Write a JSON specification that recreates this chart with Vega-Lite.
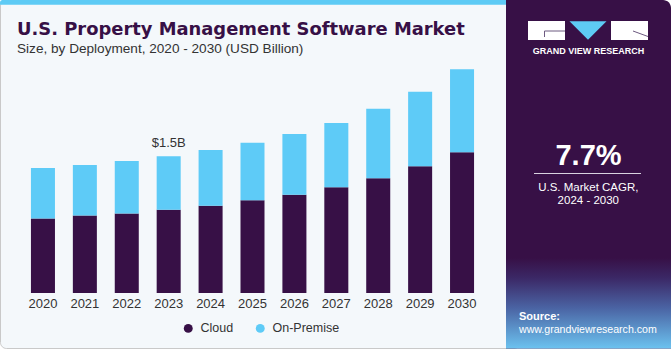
{
  "$schema": "https://vega.github.io/schema/vega-lite/v6.json",
  "autosize": {"type": "none"},
  "padding": {"left": 22, "top": 56, "right": 188, "bottom": 57},
  "width": 461,
  "height": 237,
  "background": "#ffffff",
  "config": {"view": {"stroke": null}, "font": "Liberation Sans"},
  "layer": [
    {
      "data": {"values": [{}]},
      "layer": [
        {"mark": {"type": "rect", "fill": "#f4f8fb", "stroke": "#c9c9c9", "strokeWidth": 1, "cornerRadius": 6},
         "encoding": {
           "x": {"datum": 0.5, "type": "quantitative", "scale": {"domain": [0, 671], "range": [-22, 649], "nice": false, "zero": false}, "axis": null},
           "x2": {"datum": 520},
           "y": {"datum": 0, "type": "quantitative", "scale": {"domain": [0, 350], "range": [-56, 294], "nice": false, "zero": false}, "axis": null},
           "y2": {"datum": 348.5}}},
        {"mark": {"type": "rect", "fill": "#5ecbf5", "cornerRadiusTopLeft": 4},
         "encoding": {"x": {"datum": 0, "type": "quantitative", "axis": null}, "x2": {"datum": 510},
                      "y": {"datum": 0, "type": "quantitative", "axis": null}, "y2": {"datum": 4.7}}},
        {"mark": {"type": "rect", "fill": "#371046", "cornerRadiusTopRight": 8},
         "encoding": {"x": {"datum": 506, "type": "quantitative", "axis": null}, "x2": {"datum": 671},
                      "y": {"datum": 0, "type": "quantitative", "axis": null}, "y2": {"datum": 348.5}}},
        {"mark": {"type": "rect", "fill": {"gradient": "linear", "x1": 0, "y1": 0, "x2": 0, "y2": 1,
                   "stops": [{"offset": 0, "color": "#371046"}, {"offset": 0.22, "color": "#3b2866"}, {"offset": 0.55, "color": "#4a63a3"}, {"offset": 1, "color": "#6cc2ef"}]}},
         "encoding": {"x": {"datum": 506, "type": "quantitative", "axis": null}, "x2": {"datum": 671},
                      "y": {"datum": 258, "type": "quantitative", "axis": null}, "y2": {"datum": 348.5}}},
        {"mark": {"type": "rect", "fill": "#ffffff"},
         "encoding": {"x": {"datum": 528, "type": "quantitative", "axis": null}, "x2": {"datum": 565},
                      "y": {"datum": 21, "type": "quantitative", "axis": null}, "y2": {"datum": 40}}},
        {"mark": {"type": "rect", "fill": "#ffffff"},
         "encoding": {"x": {"datum": 611, "type": "quantitative", "axis": null}, "x2": {"datum": 648},
                      "y": {"datum": 21, "type": "quantitative", "axis": null}, "y2": {"datum": 40}}},
        {"mark": {"type": "rule", "stroke": "#6d5a80", "strokeWidth": 1},
         "encoding": {"x": {"datum": 544.5, "type": "quantitative", "axis": null}, "x2": {"datum": 565},
                      "y": {"datum": 31, "type": "quantitative", "axis": null}, "y2": {"datum": 31}}},
        {"mark": {"type": "rule", "stroke": "#6d5a80", "strokeWidth": 1},
         "encoding": {"x": {"datum": 544.5, "type": "quantitative", "axis": null}, "x2": {"datum": 544.5},
                      "y": {"datum": 31, "type": "quantitative", "axis": null}, "y2": {"datum": 37}}},
        {"mark": {"type": "rule", "stroke": "#6d5a80", "strokeWidth": 1},
         "encoding": {"x": {"datum": 633, "type": "quantitative", "axis": null}, "x2": {"datum": 648},
                      "y": {"datum": 31, "type": "quantitative", "axis": null}, "y2": {"datum": 36.5}}},
        {"mark": {"type": "point", "shape": "M-1,-0.5L1,-0.5L0,0.5Z", "filled": true, "fill": "#5ecbf5", "stroke": null, "opacity": 1, "size": 1369},
         "encoding": {"x": {"datum": 588, "type": "quantitative", "axis": null},
                      "y": {"datum": 30.5, "type": "quantitative", "axis": null}}},
        {"mark": {"type": "text", "fill": "#ffffff", "font": "Liberation Sans", "fontWeight": "bold", "fontSize": 9, "letterSpacing": 1.5, "align": "center", "baseline": "alphabetic"},
         "encoding": {"x": {"datum": 588.5, "type": "quantitative", "axis": null},
                      "y": {"datum": 54.3, "type": "quantitative", "axis": null},
                      "text": {"value": "GRAND VIEW RESEARCH"}}},
        {"mark": {"type": "text", "fill": "#ffffff", "font": "Liberation Sans", "fontWeight": "bold", "fontSize": 29, "letterSpacing": 1, "align": "center", "baseline": "alphabetic"},
         "encoding": {"x": {"datum": 588.5, "type": "quantitative", "axis": null},
                      "y": {"datum": 165, "type": "quantitative", "axis": null},
                      "text": {"value": "7.7%"}}},
        {"mark": {"type": "rule", "stroke": "#d9d2e0", "strokeWidth": 1},
         "encoding": {"x": {"datum": 534, "type": "quantitative", "axis": null}, "x2": {"datum": 641},
                      "y": {"datum": 173.5, "type": "quantitative", "axis": null}, "y2": {"datum": 173.5}}},
        {"mark": {"type": "text", "fill": "#ffffff", "font": "Liberation Sans", "fontSize": 11.5, "align": "center", "baseline": "alphabetic"},
         "encoding": {"x": {"datum": 588.3, "type": "quantitative", "axis": null},
                      "y": {"datum": 190.5, "type": "quantitative", "axis": null},
                      "text": {"value": "U.S. Market CAGR,"}}},
        {"mark": {"type": "text", "fill": "#ffffff", "font": "Liberation Sans", "fontSize": 11.5, "align": "center", "baseline": "alphabetic"},
         "encoding": {"x": {"datum": 588.3, "type": "quantitative", "axis": null},
                      "y": {"datum": 203.5, "type": "quantitative", "axis": null},
                      "text": {"value": "2024 - 2030"}}},
        {"mark": {"type": "text", "fill": "#ffffff", "font": "Liberation Sans", "fontWeight": "bold", "fontSize": 11, "align": "left", "baseline": "alphabetic"},
         "encoding": {"x": {"datum": 519, "type": "quantitative", "axis": null},
                      "y": {"datum": 320, "type": "quantitative", "axis": null},
                      "text": {"value": "Source:"}}},
        {"mark": {"type": "text", "fill": "#ffffff", "font": "Liberation Sans", "fontSize": 10.6, "align": "left", "baseline": "alphabetic"},
         "encoding": {"x": {"datum": 519, "type": "quantitative", "axis": null},
                      "y": {"datum": 333, "type": "quantitative", "axis": null},
                      "text": {"value": "www.grandviewresearch.com"}}},
        {"mark": {"type": "text", "fill": "#371046", "font": "DejaVu Sans", "fontWeight": "bold", "fontSize": 17.9, "align": "left", "baseline": "alphabetic"},
         "encoding": {"x": {"datum": 17, "type": "quantitative", "axis": null},
                      "y": {"datum": 35, "type": "quantitative", "axis": null},
                      "text": {"value": "U.S. Property Management Software Market"}}},
        {"mark": {"type": "text", "fill": "#333333", "font": "Liberation Sans", "fontSize": 13.6, "align": "left", "baseline": "alphabetic"},
         "encoding": {"x": {"datum": 17, "type": "quantitative", "axis": null},
                      "y": {"datum": 53.3, "type": "quantitative", "axis": null},
                      "text": {"value": "Size, by Deployment, 2020 - 2030 (USD Billion)"}}}
      ]
    },
    {
      "data": {"values": [
        {"year": "2020", "deployment": "Cloud", "value": 0.816},
        {"year": "2020", "deployment": "On-Premise", "value": 0.556},
        {"year": "2021", "deployment": "Cloud", "value": 0.849},
        {"year": "2021", "deployment": "On-Premise", "value": 0.556},
        {"year": "2022", "deployment": "Cloud", "value": 0.871},
        {"year": "2022", "deployment": "On-Premise", "value": 0.578},
        {"year": "2023", "deployment": "Cloud", "value": 0.914},
        {"year": "2023", "deployment": "On-Premise", "value": 0.586},
        {"year": "2024", "deployment": "Cloud", "value": 0.958},
        {"year": "2024", "deployment": "On-Premise", "value": 0.612},
        {"year": "2025", "deployment": "Cloud", "value": 1.017},
        {"year": "2025", "deployment": "On-Premise", "value": 0.630},
        {"year": "2026", "deployment": "Cloud", "value": 1.079},
        {"year": "2026", "deployment": "On-Premise", "value": 0.666},
        {"year": "2027", "deployment": "Cloud", "value": 1.159},
        {"year": "2027", "deployment": "On-Premise", "value": 0.707},
        {"year": "2028", "deployment": "Cloud", "value": 1.258},
        {"year": "2028", "deployment": "On-Premise", "value": 0.762},
        {"year": "2029", "deployment": "Cloud", "value": 1.390},
        {"year": "2029", "deployment": "On-Premise", "value": 0.817},
        {"year": "2030", "deployment": "Cloud", "value": 1.543},
        {"year": "2030", "deployment": "On-Premise", "value": 0.912}
      ]},
      "layer": [
        {"mark": {"type": "bar"},
         "encoding": {
           "x": {"field": "year", "type": "ordinal", "scale": {"paddingInner": 0.427, "paddingOuter": 0.2135},
                 "axis": {"title": null, "ticks": false, "domain": false, "labelPadding": 4, "labelFontSize": 13, "labelColor": "#333333", "labelFont": "Liberation Sans", "labelAngle": 0, "zindex": 2}},
           "y": {"field": "value", "type": "quantitative", "stack": "zero", "scale": {"domain": [0, 2.6], "nice": false}, "axis": null},
           "color": {"field": "deployment", "type": "nominal",
                     "scale": {"domain": ["Cloud", "On-Premise"], "range": ["#371046", "#5ecbf7"]},
                     "legend": {"title": null, "orient": "none", "legendX": 160, "legendY": 266, "direction": "horizontal",
                                "symbolType": "circle", "symbolSize": 80, "symbolStrokeWidth": 0, "labelFontSize": 12.5,
                                "labelColor": "#333333", "labelFont": "Liberation Sans", "labelOffset": 6, "columnPadding": 20, "padding": 0, "zindex": 2}},
           "order": {"field": "deployment", "sort": "ascending"}}},
        {"transform": [{"filter": "datum.year == '2023'"},
                       {"aggregate": [{"op": "sum", "field": "value", "as": "total"}], "groupby": ["year"]}],
         "mark": {"type": "text", "baseline": "alphabetic", "dy": -9.4, "fontSize": 13, "fill": "#333333", "font": "Liberation Sans"},
         "encoding": {"x": {"field": "year", "type": "ordinal"},
                      "y": {"field": "total", "type": "quantitative"},
                      "text": {"value": "$1.5B"}}}
      ]
    }
  ],
  "resolve": {"scale": {"x": "independent", "y": "independent"}}
}
